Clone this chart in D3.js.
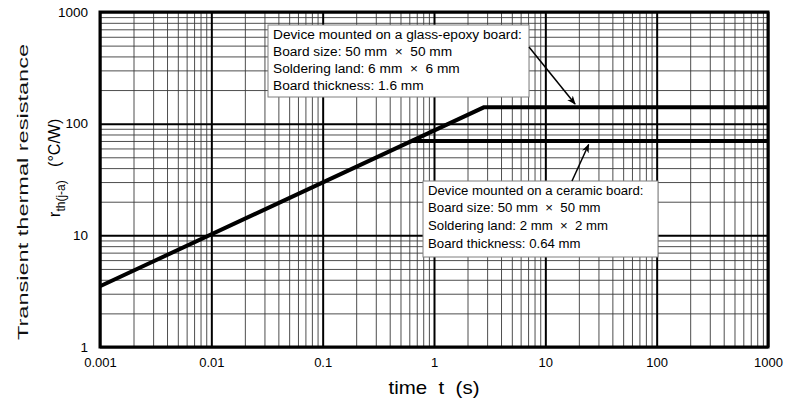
<!DOCTYPE html>
<html>
<head>
<meta charset="utf-8">
<script src="https://cdn.jsdelivr.net/npm/d3@7"></script>
<style>
  body { margin: 0; background: #fff; }
  svg { font-family: "Liberation Sans", Arial, sans-serif; }
</style>
</head>
<body>
<div class="chart"></div>
<script>
// values
const xTickValues = [0.001, 0.01, 0.1, 1, 10, 100, 1000]
const xTickLabels = ["0.001", "0.01", "0.1", "1", "10", "100", "1000"]
const yTickValues = [1, 10, 100, 1000]
const yTickLabels = ["1", "10", "100", "1000"]

// glass-epoxy board curve (t in s, r in degC/W)
const glassTime = [0.001, 2.8, 1000]
const glassRth = [3.5, 140, 140]
// ceramic board: flattens at ~70 where it leaves the common slope
const ceramicTime = [0.63, 1000]
const ceramicRth = [70, 70]

const glassNote = [
    "Device mounted on a glass-epoxy board:",
    "Board size: 50 mm  \u00d7  50 mm",
    "Soldering land: 6 mm  \u00d7  6 mm",
    "Board thickness: 1.6 mm"
]
const ceramicNote = [
    "Device mounted on a ceramic board:",
    "Board size: 50 mm  \u00d7  50 mm",
    "Soldering land: 2 mm  \u00d7  2 mm",
    "Board thickness: 0.64 mm"
]

const margin = { top: 12, right: 19, bottom: 59, left: 100 }
const width = 787 - margin.left - margin.right
const height = 406 - margin.top - margin.bottom

const svgRoot = d3.select(".chart")
    .append("svg")
    .attr("width", 787)
    .attr("height", 406)

svgRoot.append("defs").append("marker")
    .attr("id", "arrow")
    .attr("viewBox", "0 0 10 10")
    .attr("refX", 9)
    .attr("refY", 5)
    .attr("markerWidth", 9)
    .attr("markerHeight", 9)
    .attr("markerUnits", "userSpaceOnUse")
    .attr("orient", "auto")
    .append("path")
    .attr("d", "M0,1 L10,5 L0,9 L3,5 Z")
    .style("fill", "#000")

const svg = svgRoot.append("g")
    .attr("transform", `translate(${margin.left},${margin.top})`)

const x = d3.scaleLog().domain([0.001, 1000]).range([0, width])
const y = d3.scaleLog().domain([1, 1000]).range([height, 0])

const isMajor = d => Math.abs(Math.log10(d) - Math.round(Math.log10(d))) < 1e-9
const xMinor = x.ticks().filter(d => !isMajor(d))
const yMinor = y.ticks().filter(d => !isMajor(d))

// minor grid
svg.append("g")
    .attr("class", "grid minor")
    .attr("transform", `translate(0,${height})`)
    .call(d3.axisBottom(x).tickValues(xMinor).tickSize(-height).tickFormat(""))
svg.append("g")
    .attr("class", "grid minor")
    .call(d3.axisLeft(y).tickValues(yMinor).tickSize(-width).tickFormat(""))
svg.selectAll(".grid.minor line")
    .style("stroke", "#3a3a3a")
    .style("stroke-width", 0.9)

// major grid
svg.append("g")
    .attr("class", "grid major")
    .attr("transform", `translate(0,${height})`)
    .call(d3.axisBottom(x).tickValues(xTickValues).tickSize(-height).tickFormat(""))
svg.append("g")
    .attr("class", "grid major")
    .call(d3.axisLeft(y).tickValues(yTickValues).tickSize(-width).tickFormat(""))
svg.selectAll(".grid.major line")
    .style("stroke", "#000")
    .style("stroke-width", 2)
svg.selectAll(".grid .domain").remove()

// frame
svg.append("rect")
    .attr("width", width)
    .attr("height", height)
    .style("fill", "none")
    .style("stroke", "#000")
    .style("stroke-width", 3)

// tick labels
svg.append("g")
    .attr("class", "x axis")
    .attr("transform", `translate(0,${height})`)
    .call(d3.axisBottom(x).tickValues(xTickValues).tickSize(0).tickPadding(11)
        .tickFormat((d, i) => xTickLabels[i]))
    .call(g => g.select(".domain").remove())
    .selectAll("text")
    .style("font-size", "13px")
    .style("fill", "#000")

svg.append("g")
    .attr("class", "y axis")
    .call(d3.axisLeft(y).tickValues(yTickValues).tickSize(0).tickPadding(12)
        .tickFormat((d, i) => yTickLabels[i]))
    .call(g => g.select(".domain").remove())
    .selectAll("text")
    .style("font-size", "13.5px")
    .style("fill", "#000")

// curves
const line = d3.line()
    .x(d => x(d[0]))
    .y(d => y(d[1]))

svg.append("path")
    .datum(d3.zip(glassTime, glassRth))
    .attr("d", line)
    .style("fill", "none")
    .style("stroke", "#000")
    .style("stroke-width", 4)

svg.append("path")
    .datum(d3.zip(ceramicTime, ceramicRth))
    .attr("d", line)
    .style("fill", "none")
    .style("stroke", "#000")
    .style("stroke-width", 4)

// annotation boxes
function noteBox(lines, bx, by, bw, bh, step, size) {
    const g = svg.append("g").attr("transform", `translate(${bx},${by})`)
    g.append("rect")
        .attr("width", bw)
        .attr("height", bh)
        .style("fill", "#fff")
        .style("stroke", "#7f7f7f")
        .style("stroke-width", 1)
    g.selectAll("text")
        .data(lines)
        .enter().append("text")
        .attr("x", 5)
        .attr("y", (d, i) => 13.5 + i * step)
        .style("font-size", size + "px")
        .style("white-space", "pre")
        .style("fill", "#000")
        .text(d => d)
}

noteBox(glassNote, 168, 13, 261, 72, 17.2, 13.7)
noteBox(ceramicNote, 323, 169, 235, 76, 17.7, 13.2)

// arrows (tail in pixels relative to the boxes, tip on the curves)
svg.append("line")
    .attr("x1", 429).attr("y1", 35)
    .attr("x2", x(18.5)).attr("y2", y(150))
    .style("stroke", "#000")
    .style("stroke-width", 1.5)
    .attr("marker-end", "url(#arrow)")

svg.append("line")
    .attr("x1", 472).attr("y1", 169)
    .attr("x2", x(24.5)).attr("y2", y(65))
    .style("stroke", "#000")
    .style("stroke-width", 1.5)
    .attr("marker-end", "url(#arrow)")

// axis titles
svgRoot.append("text")
    .attr("x", 434)
    .attr("y", 394)
    .attr("text-anchor", "middle")
    .attr("textLength", 91)
    .attr("lengthAdjust", "spacingAndGlyphs")
    .style("font-size", "19px")
    .style("white-space", "pre")
    .text("time  t  (s)")

svgRoot.append("text")
    .attr("transform", "translate(27.5,192) rotate(-90)")
    .attr("text-anchor", "middle")
    .attr("textLength", 296)
    .attr("lengthAdjust", "spacingAndGlyphs")
    .style("font-size", "15px")
    .style("fill", "#111")
    .text("Transient thermal resistance")

const unit = svgRoot.append("text")
    .attr("transform", "translate(60,168) rotate(-90)")
    .attr("text-anchor", "middle")
    .style("font-size", "17px")
    .style("white-space", "pre")
unit.append("tspan").text("r")
unit.append("tspan").attr("dy", 5).style("font-size", "12px").text("th(j-a)")
unit.append("tspan").attr("dy", -5).style("font-size", "16px").text("   (\u00b0C/W)")
</script>
</body>
</html>
